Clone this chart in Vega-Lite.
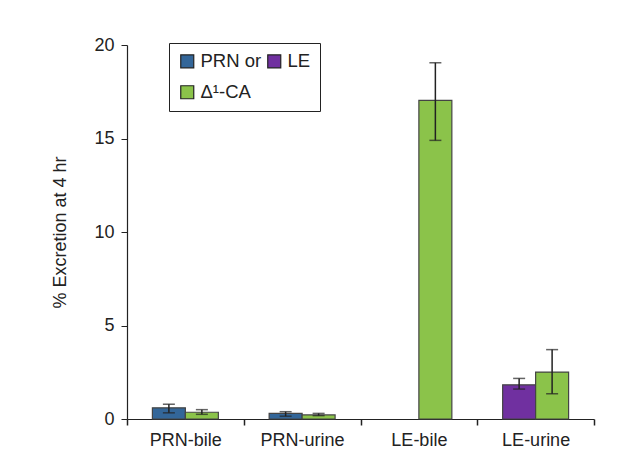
{
  "$schema": "https://vega.github.io/schema/vega-lite/v6.json",
  "width": 467,
  "height": 374,
  "autosize": "none",
  "padding": {"left": 127, "top": 45, "right": 41, "bottom": 55},
  "background": "white",
  "config": {
    "font": "Liberation Sans",
    "view": {"stroke": null},
    "axis": {"labelFont": "Liberation Sans", "titleFont": "Liberation Sans", "labelColor": "#222", "titleColor": "#222", "domainColor": "#222", "tickColor": "#222", "grid": false}
  },
  "data": {
    "values": [
      {"cat": "PRN-bile", "series": "PRN or", "slot": "a", "value": 0.6, "lo": 0.33, "hi": 0.79},
      {"cat": "PRN-bile", "series": "Δ¹-CA", "slot": "b", "value": 0.36, "lo": 0.25, "hi": 0.5},
      {"cat": "PRN-urine", "series": "PRN or", "slot": "a", "value": 0.3, "lo": 0.15, "hi": 0.39},
      {"cat": "PRN-urine", "series": "Δ¹-CA", "slot": "b", "value": 0.22, "lo": 0.18, "hi": 0.3},
      {"cat": "LE-bile", "series": "Δ¹-CA", "slot": "b", "value": 17.04, "lo": 14.9, "hi": 19.05},
      {"cat": "LE-urine", "series": "LE", "slot": "a", "value": 1.83, "lo": 1.6, "hi": 2.17},
      {"cat": "LE-urine", "series": "Δ¹-CA", "slot": "b", "value": 2.51, "lo": 1.35, "hi": 3.71}
    ]
  },
  "encoding": {
    "x": {
      "field": "cat", "type": "nominal",
      "sort": ["PRN-bile", "PRN-urine", "LE-bile", "LE-urine"],
      "scale": {"paddingInner": 0, "paddingOuter": 0},
      "axis": {"title": null, "labelAngle": 0, "labelFontSize": 18, "tickBand": "extent", "tickSize": 6, "labelPadding": 6, "domainWidth": 1.2, "tickWidth": 1.5}
    },
    "xOffset": {"field": "slot", "type": "nominal", "scale": {"domain": ["a", "b"], "paddingInner": 0, "paddingOuter": 0.77}}
  },
  "layer": [
    {
      "mark": {"type": "bar", "stroke": "#444", "strokeWidth": 1.2},
      "encoding": {
        "y": {
          "field": "value", "type": "quantitative",
          "scale": {"domain": [0, 20], "nice": false},
          "axis": {"values": [0, 5, 10, 15, 20], "title": "% Excretion at 4 hr", "titleFontSize": 18, "titleFontWeight": "normal", "labelFontSize": 18, "tickSize": 6, "labelPadding": 7, "titlePadding": 24, "domainWidth": 1.2}
        },
        "color": {
          "field": "series", "type": "nominal",
          "scale": {"domain": ["PRN or", "Δ¹-CA", "LE"], "range": ["#336699", "#8BC34A", "#7030A0"]},
          "legend": {
            "title": null, "orient": "none", "legendX": 42, "legendY": -2, "columns": 2,
            "symbolType": "square", "symbolSize": 169, "symbolStrokeColor": "#222", "symbolStrokeWidth": 1.2,
            "labelFontSize": 18.5, "labelColor": "#222", "columnPadding": 3, "rowPadding": 12,
            "padding": 9, "strokeColor": "#222", "fillColor": "white", "labelOffset": 4
          }
        }
      }
    },
    {
      "mark": {"type": "rule", "color": "#222", "strokeWidth": 1.5},
      "encoding": {
        "y": {"field": "lo", "type": "quantitative"},
        "y2": {"field": "hi"}
      }
    },
    {
      "mark": {"type": "tick", "color": "#222", "thickness": 1.5, "size": 12},
      "encoding": {"y": {"field": "lo", "type": "quantitative"}}
    },
    {
      "mark": {"type": "tick", "color": "#222", "thickness": 1.5, "size": 12},
      "encoding": {"y": {"field": "hi", "type": "quantitative"}}
    }
  ]
}
